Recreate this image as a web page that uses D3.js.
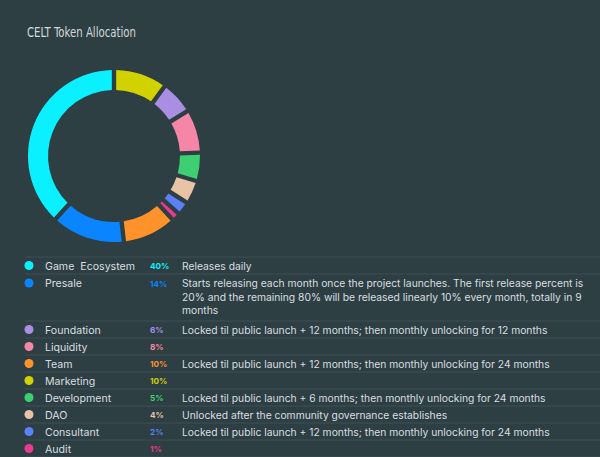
<!DOCTYPE html>
<html><head><meta charset="utf-8">
<script src="https://cdn.jsdelivr.net/npm/d3@7"></script>
<style>
html,body{margin:0;padding:0;background:#2e3f44;}
svg{display:block;}
</style></head>
<body>
<svg id="chart" width="600" height="457"></svg>
<script>
const title = "CELT Token Allocation";
const categories = ["Game  Ecosystem","Presale","Foundation","Liquidity","Team","Marketing","Development","DAO","Consultant","Audit"];
const values = [40,14,6,8,10,10,5,4,2,1];
const colors = ["#0bf0ff","#0a84ff","#a98ee2","#f586a8","#ff922b","#d2d200","#3ecf72","#e8c3a6","#5b80f7","#e83a8e"];
const descriptions = [
  ["Releases daily"],
  ["Starts releasing each month once the project launches. The first release percent is","20% and the remaining 80% will be released linearly 10% every month, totally in 9","months"],
  ["Locked til public launch + 12 months; then monthly unlocking for 12 months"],
  [""],
  ["Locked til public launch + 12 months; then monthly unlocking for 24 months"],
  [""],
  ["Locked til public launch + 6 months; then monthly unlocking for 24 months"],
  ["Unlocked after the community governance establishes"],
  ["Locked til public launch + 12 months; then monthly unlocking for 24 months"],
  [""]
];
// clockwise order in the donut, starting at 12 o'clock
const pieOrder = ["Marketing","Foundation","Liquidity","Development","DAO","Consultant","Audit","Team","Presale","Game  Ecosystem"];

const svg = d3.select("#chart");
svg.append("text").attr("x",27).attr("y",37)
  .attr("font-family","'Liberation Sans Narrow', 'DejaVu Sans Condensed', sans-serif")
  .attr("font-size",14).attr("fill","#d3d9db")
  .attr("textLength",109).attr("lengthAdjust","spacingAndGlyphs").text(title);

const data = categories.map((c,i)=>({cat:c,value:values[i],color:colors[i],desc:descriptions[i]}));
const pieData = pieOrder.map(n=>data.find(d=>d.cat===n));

const pie = d3.pie().value(d=>d.value).sort(null).padAngle(0.04);
const arc = d3.arc().innerRadius(66).outerRadius(86);
const g = svg.append("g").attr("transform","translate(114,156)");
g.selectAll("path").data(pie(pieData)).join("path")
  .attr("d",arc).attr("fill",d=>d.data.color);

// table
const rowH = 17, lineH = 13.5;
let y = 257;
const tbl = svg.append("g").attr("font-family","Inter, Lato, sans-serif");
tbl.append("line").attr("x1",25).attr("x2",600).attr("y1",y).attr("y2",y).attr("stroke","#3c4e54").attr("stroke-width",1);
data.forEach((d,i)=>{
  const n = Math.max(1,d.desc.length);
  const h = n===1 ? rowH : 47;
  const cy = n===1 ? y + h/2 : y + 9;
  tbl.append("circle").attr("cx",29).attr("cy",cy).attr("r",4.5).attr("fill",d.color);
  tbl.append("text").attr("x",45).attr("y",cy+4).attr("font-size",10.6).attr("fill","#d9dee0").text(d.cat).attr("xml:space","preserve");
  tbl.append("text").attr("x",150).attr("y",cy+3.5).attr("font-size",8.2).attr("font-weight","bold").attr("fill",d.color).text(d.value+"%");
  d.desc.forEach((t,k)=>{
    tbl.append("text").attr("x",182).attr("y",cy+4+k*lineH).attr("font-size",10.3).attr("fill","#d9dee0").text(t);
  });
  y += h;
  tbl.append("line").attr("x1",25).attr("x2",600).attr("y1",y).attr("y2",y).attr("stroke","#3c4e54").attr("stroke-width",1);
});
</script>
</body></html>
